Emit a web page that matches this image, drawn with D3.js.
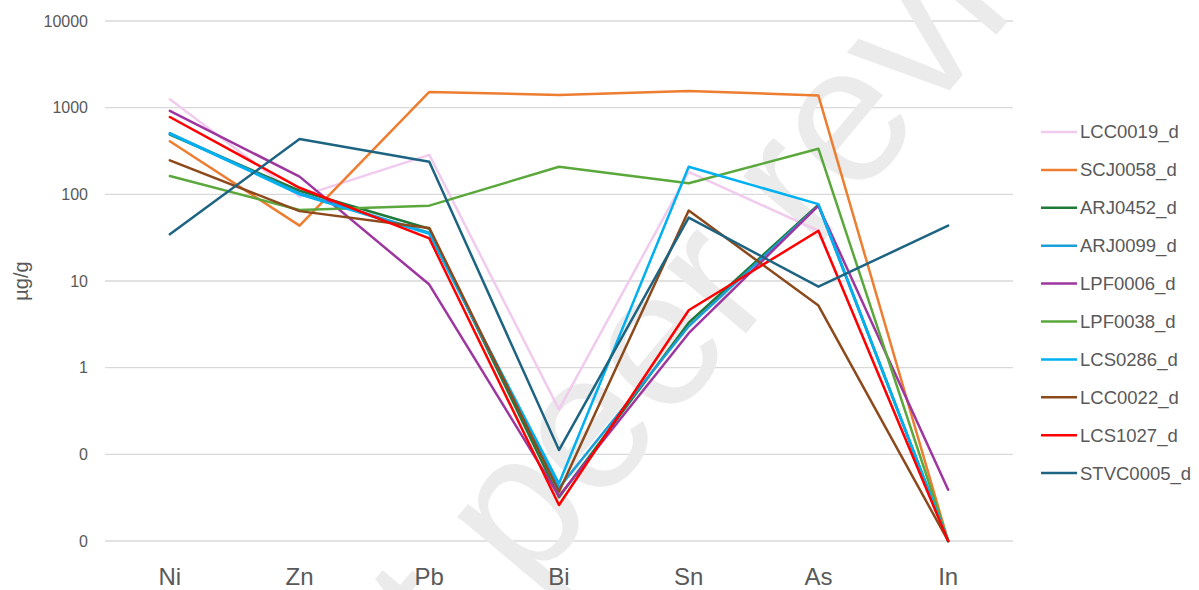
<!DOCTYPE html>
<html>
<head>
<meta charset="utf-8">
<script src="https://cdn.jsdelivr.net/npm/d3@7"></script>
<style>
  body { margin: 0; background: #fff; }
  svg { display: block; font-family: "Liberation Sans", Arial, sans-serif; }
</style>
</head>
<body>
<svg id="chart" width="1199" height="590"></svg>
<script>
// Elements on the x axis
const elements = ["Ni", "Zn", "Pb", "Bi", "Sn", "As", "In"];

// Concentrations (µg/g) per sample, in element order
const LCC0019_d  = [1250, 94, 285, 0.33, 182, 38, 0.01];
const SCJ0058_d  = [410, 43.5, 1520, 1400, 1560, 1380, 0.01];
const ARJ0452_d  = [490, 110, 40, 0.032, 3.3, 76, 0.01];
const ARJ0099_d  = [510, 103, 36, 0.041, 3.0, 74, 0.01];
const LPF0006_d  = [920, 160, 9.1, 0.033, 2.5, 74, 0.039];
const LPF0038_d  = [163, 66, 74, 208, 134, 336, 0.01];
const LCS0286_d  = [500, 100, 35, 0.046, 208, 77, 0.01];
const LCC0022_d  = [247, 64, 41, 0.037, 65, 5.2, 0.01];
const LCS1027_d  = [780, 119, 31, 0.026, 4.6, 38, 0.01];
const STVC0005_d = [34.6, 435, 238, 0.112, 54, 8.6, 43.5];

const seriesNames = ["LCC0019_d", "SCJ0058_d", "ARJ0452_d", "ARJ0099_d", "LPF0006_d",
                     "LPF0038_d", "LCS0286_d", "LCC0022_d", "LCS1027_d", "STVC0005_d"];
const seriesValues = [LCC0019_d, SCJ0058_d, ARJ0452_d, ARJ0099_d, LPF0006_d,
                      LPF0038_d, LCS0286_d, LCC0022_d, LCS1027_d, STVC0005_d];
const seriesColors = ["#f1cbee", "#ed7d31", "#1f7a3a", "#1b9fd8", "#9e36a0",
                      "#5aa83c", "#00b0f0", "#8c4a1c", "#ff0000", "#1d6482"];

// Log-axis ticks and the labels shown for them
const yTicks = [10000, 1000, 100, 10, 1, 0.1, 0.01];
const yTickLabels = ["10000", "1000", "100", "10", "1", "0", "0"];

const yTitle = "µg/g";
const watermark = "Not peer reviewed";

const svg = d3.select("#chart");
const plot = { left: 105, right: 1013, top: 21, bottom: 541 };

const x = d3.scaleBand().domain(elements).range([plot.left, plot.right]);
const xc = d => x(d) + x.bandwidth() / 2;
const y = d3.scaleLog().domain([0.01, 10000]).range([plot.bottom, plot.top]);

// Horizontal gridlines
svg.append("g")
  .selectAll("line")
  .data(yTicks)
  .join("line")
  .attr("x1", plot.left).attr("x2", plot.right)
  .attr("y1", d => y(d)).attr("y2", d => y(d))
  .attr("stroke", "#d9d9d9").attr("stroke-width", 1.3);

// Faint diagonal watermark behind the series
svg.append("text")
  .attr("transform", "translate(768,228) rotate(-50)")
  .attr("text-anchor", "middle")
  .attr("dy", "0.26em")
  .attr("font-size", 195)
  .attr("fill", "#ebebeb")
  .text(watermark);

// Y axis
const yAxis = svg.append("g")
  .attr("transform", `translate(${plot.left},0)`)
  .call(d3.axisLeft(y).tickValues(yTicks)
    .tickFormat((d, i) => yTickLabels[i]).tickSize(0).tickPadding(17));
yAxis.select(".domain").remove();
yAxis.selectAll("text").attr("font-size", 16).attr("fill", "#595959")
  .attr("font-family", "Liberation Sans, Arial, sans-serif");

// X axis
const xAxis = svg.append("g")
  .attr("transform", `translate(0,${plot.bottom})`)
  .call(d3.axisBottom(x).tickSize(0).tickPadding(27));
xAxis.select(".domain").remove();
xAxis.selectAll("text").attr("font-size", 24).attr("fill", "#595959")
  .attr("font-family", "Liberation Sans, Arial, sans-serif");

// Y axis title
svg.append("text")
  .attr("transform", `translate(28,${(plot.top + plot.bottom) / 2}) rotate(-90)`)
  .attr("text-anchor", "middle")
  .attr("font-size", 20)
  .attr("fill", "#595959")
  .text(yTitle);

// Series lines
const line = d3.line()
  .x((d, i) => xc(elements[i]))
  .y(d => y(d));

svg.append("g")
  .selectAll("path")
  .data(seriesValues)
  .join("path")
  .attr("d", d => line(d))
  .attr("fill", "none")
  .attr("stroke", (d, i) => seriesColors[i])
  .attr("stroke-width", 2.5)
  .attr("stroke-linejoin", "round")
  .attr("stroke-linecap", "round");

// Legend
const legend = svg.append("g").attr("transform", "translate(1041,132)");
const items = legend.selectAll("g")
  .data(seriesNames)
  .join("g")
  .attr("transform", (d, i) => `translate(0,${i * 37.9})`);
items.append("line")
  .attr("x1", 0).attr("x2", 36)
  .attr("stroke", (d, i) => seriesColors[i])
  .attr("stroke-width", 2.5);
items.append("text")
  .attr("x", 39)
  .attr("dy", "0.35em")
  .attr("font-size", 18.5)
  .attr("fill", "#595959")
  .text(d => d);
</script>
</body>
</html>
